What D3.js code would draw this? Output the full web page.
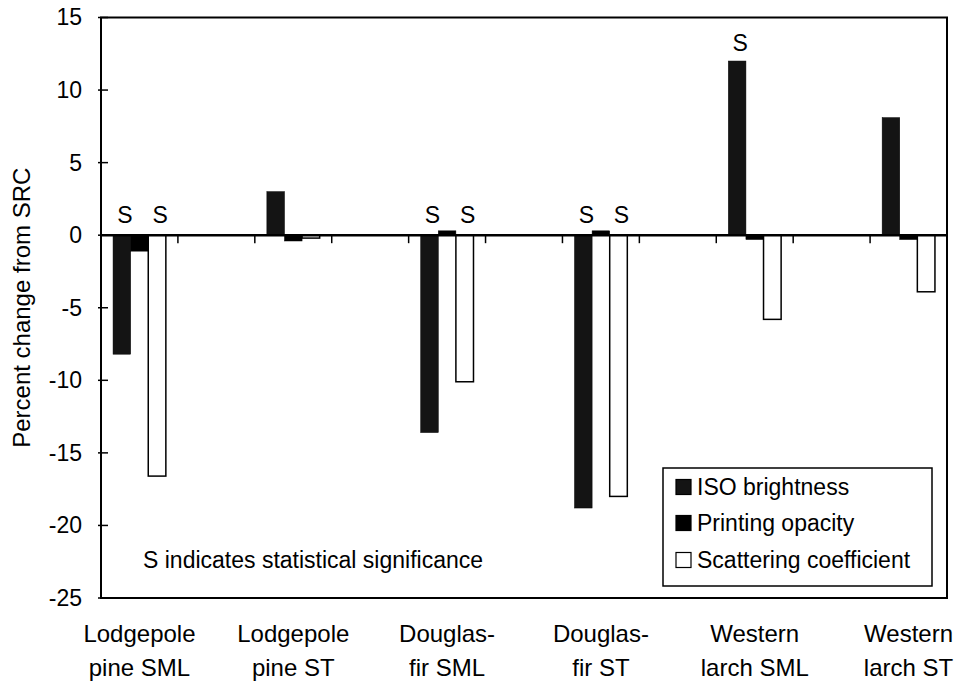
<!DOCTYPE html>
<html>
<head>
<meta charset="utf-8">
<script src="https://cdn.jsdelivr.net/npm/d3@7"></script>
<style>
  html, body { margin: 0; padding: 0; background: #fff; }
  svg { display: block; }
  text { font-family: "Liberation Sans", Arial, Helvetica, sans-serif; fill: #000; }
</style>
</head>
<body>
<svg id="chart" width="958" height="685"></svg>
<script>
// ---- data ----
const categories = ["Lodgepole pine SML", "Lodgepole pine ST", "Douglas-fir SML", "Douglas-fir ST", "Western larch SML", "Western larch ST"];
const categoryLines = [["Lodgepole", "pine SML"], ["Lodgepole", "pine ST"], ["Douglas-", "fir SML"], ["Douglas-", "fir ST"], ["Western", "larch SML"], ["Western", "larch ST"]];
const seriesNames = ["ISO brightness", "Printing opacity", "Scattering coefficient"];
const isoBrightness = [-8.2, 3.0, -13.6, -18.8, 12.0, 8.1];
const printingOpacity = [-1.1, -0.4, 0.3, 0.3, -0.3, -0.3];
const scatteringCoef = [-16.6, -0.2, -10.1, -18.0, -5.8, -3.9];
const sigIso = [true, false, true, true, true, false];
const sigOpacity = [false, false, false, false, false, false];
const sigScatter = [true, false, true, true, false, false];
const yTicks = [15, 10, 5, 0, -5, -10, -15, -20, -25];
const yLabel = "Percent change from SRC";
const note = "S indicates statistical significance";

(function () {
const seriesValues = [isoBrightness, printingOpacity, scatteringCoef];
const seriesSig = [sigIso, sigOpacity, sigScatter];
const seriesFill = ["#141414", "#000000", "#ffffff"];

// ---- layout ----
const svg = d3.select("#chart");
const pLeft = 101, pRight = 947, pTop = 17.5, pBottom = 598;

const y = d3.scaleLinear().domain([-25, 15]).range([pBottom, pTop]);
// 11 slots; groups occupy every other slot (0,2,...,10)
const nSlots = categories.length * 2 - 1;
const slot = d3.scaleBand().domain(d3.range(nSlots)).range([pLeft, pRight]);
const groupCenter = i => slot(i * 2) + slot.bandwidth() / 2;
const inner = d3.scaleBand().domain(seriesNames).range([-26.4, 26.4]);

// bars
seriesNames.forEach((s, si) => {
  svg.append("g").selectAll("rect")
    .data(seriesValues[si])
    .join("rect")
    .attr("x", (d, i) => groupCenter(i) + inner(s))
    .attr("width", inner.bandwidth())
    .attr("y", d => y(Math.max(0, d)))
    .attr("height", d => Math.abs(y(d) - y(0)))
    .attr("fill", seriesFill[si])
    .attr("stroke", "#000")
    .attr("stroke-width", si === 2 ? 1.5 : 0.5);
});

// significance labels
seriesNames.forEach((s, si) => {
  svg.append("g").selectAll("text")
    .data(seriesValues[si].map((v, i) => ({v, i, sig: seriesSig[si][i]})).filter(d => d.sig))
    .join("text")
    .attr("x", d => groupCenter(d.i) + inner(s) + inner.bandwidth() / 2 + 3)
    .attr("y", d => d.v > 0 ? y(d.v) - 10 : y(0) - 12)
    .attr("text-anchor", "middle")
    .attr("font-size", 23)
    .text("S");
});

// zero line
svg.append("line")
  .attr("x1", pLeft).attr("x2", pRight)
  .attr("y1", y(0)).attr("y2", y(0))
  .attr("stroke", "#000").attr("stroke-width", 2.5);

// category boundary ticks on zero line
svg.append("g").selectAll("line")
  .data(d3.range(1, nSlots))
  .join("line")
  .attr("x1", d => slot(d)).attr("x2", d => slot(d))
  .attr("y1", y(0)).attr("y2", y(0) + 8)
  .attr("stroke", "#000").attr("stroke-width", 1.5);

// frame
svg.append("rect")
  .attr("x", pLeft).attr("y", pTop)
  .attr("width", pRight - pLeft).attr("height", pBottom - pTop)
  .attr("fill", "none").attr("stroke", "#000").attr("stroke-width", 2);

// y axis ticks and labels
const yAxis = d3.axisLeft(y).tickValues(yTicks).tickSize(0).tickPadding(19).tickFormat(d => String(d));
const ya = svg.append("g").attr("transform", `translate(${pLeft},0)`).call(yAxis);
ya.select(".domain").remove();
ya.selectAll("text").attr("font-size", 23).attr("font-family", "Liberation Sans, Arial, sans-serif").attr("fill", "#000");
svg.append("g").selectAll("line")
  .data(yTicks)
  .join("line")
  .attr("x1", pLeft - 3).attr("x2", pLeft + 7)
  .attr("y1", d => y(d)).attr("y2", d => y(d))
  .attr("stroke", "#000").attr("stroke-width", 1.5);

// y title
svg.append("text")
  .attr("transform", `translate(30,${(pTop + pBottom) / 2}) rotate(-90)`)
  .attr("text-anchor", "middle")
  .attr("font-size", 24)
  .text(yLabel);

// category labels
const cl = svg.append("g").selectAll("text")
  .data(categoryLines)
  .join("text")
  .attr("text-anchor", "middle")
  .attr("font-size", 24);
cl.each(function (lines, i) {
  const t = d3.select(this);
  lines.forEach((ln, k) => {
    t.append("tspan").attr("x", groupCenter(i)).attr("y", 642 + k * 34).text(ln);
  });
});

// note
svg.append("text")
  .attr("x", 143).attr("y", 568)
  .attr("font-size", 23)
  .text(note);

// legend
const lg = svg.append("g");
lg.append("rect")
  .attr("x", 663).attr("y", 468).attr("width", 269).attr("height", 118)
  .attr("fill", "#fff").attr("stroke", "#000").attr("stroke-width", 1.5);
const rowY = [487, 523, 560];
seriesNames.forEach((s, si) => {
  lg.append("rect")
    .attr("x", 676).attr("y", rowY[si] - 7.5).attr("width", 15).attr("height", 15)
    .attr("fill", seriesFill[si]).attr("stroke", "#000").attr("stroke-width", 1.2);
  lg.append("text")
    .attr("x", 697).attr("y", rowY[si]).attr("dy", "0.36em")
    .attr("font-size", 23)
    .text(s);
});
})();
</script>
</body>
</html>
